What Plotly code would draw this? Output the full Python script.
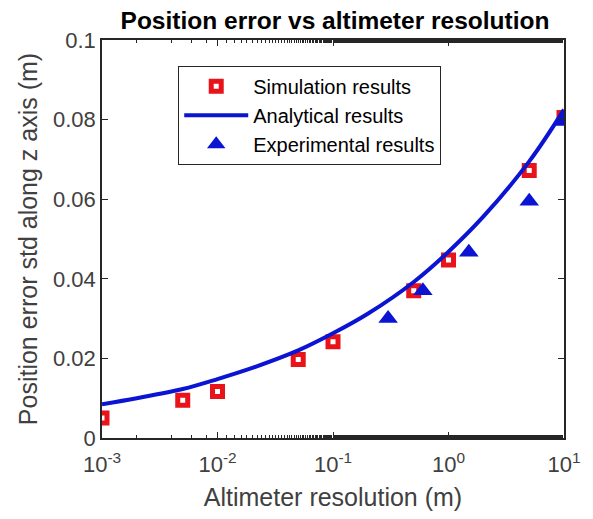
import plotly.graph_objects as go

# Simulation results
sim_x = [0.001, 0.005, 0.01, 0.05, 0.1, 0.5, 1, 5, 10]
sim_y = [0.0050, 0.0095, 0.0117, 0.0197, 0.0242, 0.0370, 0.0447, 0.0672, 0.0805]

# Experimental results
exp_x = [0.3, 0.6, 1.5, 5, 10]
exp_y = [0.0300, 0.0370, 0.0467, 0.0595, 0.0795]

# Analytical results
ana_x = [0.001, 0.002, 0.005, 0.01, 0.02, 0.05, 0.1, 0.2, 0.5, 1, 2, 5, 10]
ana_y = [0.0085, 0.0100, 0.0123, 0.0148, 0.0176, 0.0220, 0.0263, 0.0312, 0.0392, 0.0468, 0.0556, 0.0695, 0.0825]

x_tickvals = [0.001, 0.01, 0.1, 1, 10]
x_ticktext = ["10<sup>-3</sup>", "10<sup>-2</sup>", "10<sup>-1</sup>", "10<sup>0</sup>", "10<sup>1</sup>"]
y_tickvals = [0, 0.02, 0.04, 0.06, 0.08, 0.1]
y_ticktext = ["0", "0.02", "0.04", "0.06", "0.08", "0.1"]

FONT = "Liberation Sans, Arial, sans-serif"
AX = "#262626"
TK = "#404040"

fig = go.Figure()
fig.add_trace(go.Scatter(
    x=sim_x, y=sim_y, mode="markers", name="Simulation results",
    marker=dict(symbol="square", size=10, color="white",
                line=dict(color="#e8141a", width=5)),
))
fig.add_trace(go.Scatter(
    x=ana_x, y=ana_y, mode="lines", name="Analytical results",
    line=dict(color="#0a14d2", width=4, shape="spline", smoothing=1.0),
))
fig.add_trace(go.Scatter(
    x=exp_x, y=exp_y, mode="markers", name="Experimental results",
    marker=dict(symbol="triangle-up", size=17, color="#0a14d2",
                line=dict(width=0)),
))

fig.update_layout(
    width=593, height=519,
    margin=dict(l=102, r=25, t=40, b=79),
    paper_bgcolor="white", plot_bgcolor="white",
    font=dict(family=FONT, size=22, color=TK),
    title=dict(text="<b>Position error vs altimeter resolution</b>",
               x=(102 + 568) / 2 / 593, xanchor="center",
               y=1 - 20 / 519, yanchor="middle",
               font=dict(family=FONT, size=24.5, color="black")),
    showlegend=True,
    legend=dict(x=0.165, y=0.935, xanchor="left", yanchor="top",
                bgcolor="white", bordercolor=AX, borderwidth=1,
                font=dict(family=FONT, size=20, color="black"),
                itemwidth=64, tracegroupgap=0),
)
fig.update_xaxes(
    type="log", range=[-3, 1],
    tickvals=x_tickvals, ticktext=x_ticktext,
    ticks="inside", ticklen=6, tickcolor=AX,
    showline=True, linecolor=AX, linewidth=1.5, mirror="ticks",
    showgrid=False, zeroline=False,
    minor=dict(ticks="inside", ticklen=3, tickcolor=AX, showgrid=False),
    ticklabelstandoff=6,
    title=dict(text="Altimeter resolution (m)", standoff=12,
               font=dict(family=FONT, size=25, color=TK)),
    tickfont=dict(family=FONT, size=22, color=TK),
)
fig.update_yaxes(
    range=[0, 0.1],
    tickvals=y_tickvals, ticktext=y_ticktext,
    ticks="inside", ticklen=6, tickcolor=AX,
    showline=True, linecolor=AX, linewidth=1.5, mirror="ticks",
    showgrid=False, zeroline=False,
    title=dict(text="Position error std along z axis (m)", standoff=8,
               font=dict(family=FONT, size=25, color=TK)),
    tickfont=dict(family=FONT, size=22, color=TK),
)

fig.write_html("out.html")
